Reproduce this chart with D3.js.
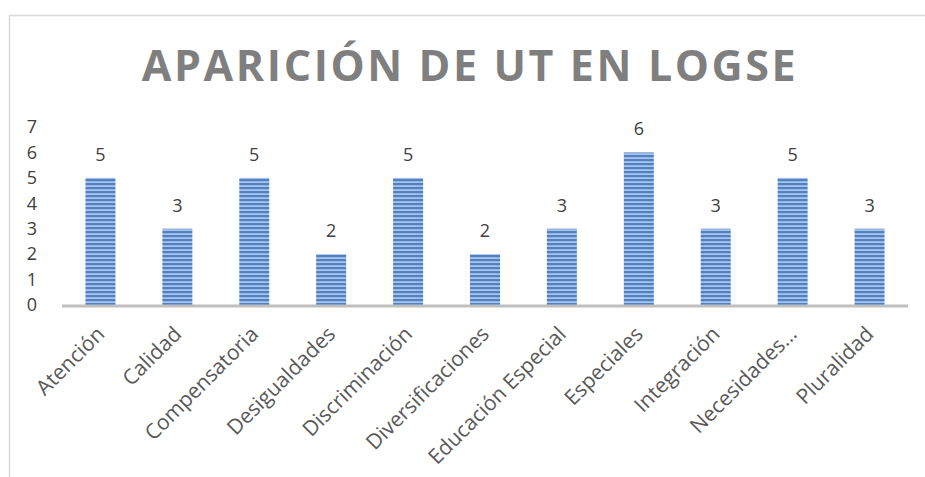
<!DOCTYPE html>
<html>
<head>
<meta charset="utf-8">
<script src="https://cdn.jsdelivr.net/npm/d3@7"></script>
<style>
  body { margin: 0; background: #fff; }
  svg { display: block; }
</style>
</head>
<body>
<div id="vis"></div>
<script>
var categories = ["Atención", "Calidad", "Compensatoria", "Desigualdades", "Discriminación",
  "Diversificaciones", "Educación Especial", "Especiales", "Integración", "Necesidades…", "Pluralidad"];
var values = [5, 3, 5, 2, 5, 2, 3, 6, 3, 5, 3];
var yTicks = [0, 1, 2, 3, 4, 5, 6, 7];
var title = "APARICIÓN DE UT EN LOGSE";

var W = 925, H = 477;
var margin = {top: 127, right: 17, bottom: 172, left: 62};
var width = W - margin.left - margin.right,
    height = H - margin.top - margin.bottom;

var svg = d3.select("div#vis").append("svg")
  .attr("width", W).attr("height", H);

// striped fill for bars
var defs = svg.append("defs");
var pat = defs.append("pattern")
  .attr("id", "stripes")
  .attr("patternUnits", "userSpaceOnUse")
  .attr("width", 8).attr("height", 4);
pat.append("rect").attr("width", 8).attr("height", 4).attr("fill", "#a9c3e6");
pat.append("rect").attr("y", 0).attr("width", 8).attr("height", 2.2).attr("fill", "#4f81c4");

// chart area border (only top + left visible)
svg.append("path")
  .attr("d", "M9.5," + H + "V15.5H" + W)
  .attr("fill", "none")
  .attr("stroke", "#d9d9d9")
  .attr("stroke-width", 1.5);

svg.append("text")
  .attr("x", 470)
  .attr("y", 81)
  .attr("text-anchor", "middle")
  .attr("font-family", "'Open Sans', sans-serif")
  .attr("font-weight", "bold")
  .attr("font-size", 43)
  .attr("letter-spacing", 2.6)
  .attr("fill", "#7f7f7f")
  .text(title);

var g = svg.append("g")
  .attr("transform", "translate(" + margin.left + "," + margin.top + ")");

var x = d3.scaleBand()
  .domain(categories)
  .range([0, width])
  .paddingInner(0.61)
  .paddingOuter(0.305);

var y = d3.scaleLinear()
  .domain([0, 7])
  .range([height, 0]);

g.selectAll("rect.bar")
  .data(values)
  .enter().append("rect")
  .attr("class", "bar")
  .attr("x", function(d, i) { return x(categories[i]); })
  .attr("y", function(d) { return y(d); })
  .attr("width", x.bandwidth())
  .attr("height", function(d) { return height - y(d); })
  .attr("fill", "url(#stripes)");

g.selectAll("text.val")
  .data(values)
  .enter().append("text")
  .attr("class", "val")
  .attr("x", function(d, i) { return x(categories[i]) + x.bandwidth() / 2; })
  .attr("y", function(d) { return y(d) - 17; })
  .attr("text-anchor", "middle")
  .attr("font-family", "'Open Sans', sans-serif")
  .attr("font-size", 18)
  .attr("fill", "#404040")
  .text(function(d) { return d; });

// baseline
g.append("line")
  .attr("x1", 0).attr("x2", width)
  .attr("y1", height + 1).attr("y2", height + 1)
  .attr("stroke", "#bfbfbf")
  .attr("stroke-width", 3);

// y axis labels
g.append("g")
  .selectAll("text")
  .data(yTicks)
  .enter().append("text")
  .attr("x", -30)
  .attr("y", function(d) { return y(d); })
  .attr("dy", "0.35em")
  .attr("text-anchor", "middle")
  .attr("font-family", "'Open Sans', sans-serif")
  .attr("font-size", 18)
  .attr("fill", "#404040")
  .text(function(d) { return d; });

// x axis labels
g.append("g")
  .selectAll("text")
  .data(categories)
  .enter().append("text")
  .attr("transform", function(d) {
    return "translate(" + (x(d) + x.bandwidth() / 2 - 5) + "," + (height + 20) + ") rotate(-45)";
  })
  .attr("text-anchor", "end")
  .attr("dy", "0.7em")
  .attr("font-family", "'Open Sans', sans-serif")
  .attr("font-size", 21)
  .attr("fill", "#595959")
  .text(function(d) { return d; });
</script>
</body>
</html>
